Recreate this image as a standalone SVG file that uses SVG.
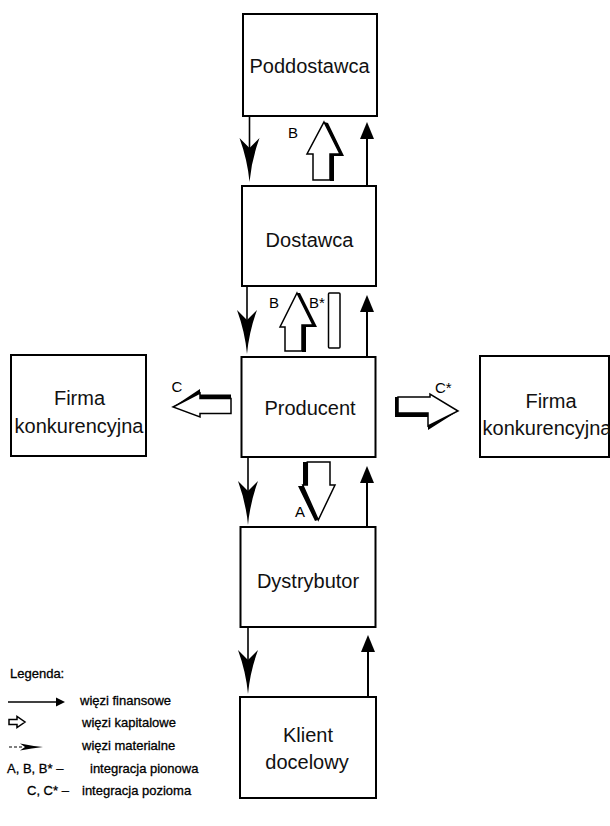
<svg xmlns="http://www.w3.org/2000/svg" xmlns:xlink="http://www.w3.org/1999/xlink" width="610" height="826" viewBox="0 0 610 826">
<style>
.box{fill:#fff;stroke:#000;stroke-width:2}
.lbl{font-family:"Liberation Sans",Arial,sans-serif;font-size:20px;fill:#111;text-anchor:middle}
.tag{font-family:"Liberation Sans",Arial,sans-serif;font-size:15px;fill:#000}
.leg{font-family:"Liberation Sans",Arial,sans-serif;font-size:13px;fill:#000;stroke:#000;stroke-width:0.3}
.ln{stroke:#000;stroke-width:2;fill:none}
.ln2{stroke:#000;stroke-width:1.6;fill:none}
.cap{fill:#fff;stroke:#000;stroke-width:1.5;stroke-linejoin:miter}
.shd{fill:#000}
</style>
<defs>
<path id="mat" d="M0,0 Q-2,-22 -10,-44 L0,-34 L10,-44 Q2,-22 0,0 Z" fill="#000"/>
<path id="fin" d="M0,0 L-7,17 L7,17 Z" fill="#000"/>
</defs>

<g id="connectors">
<line class="ln2" x1="249.5" y1="116" x2="249.5" y2="150"/>
<use href="#mat" x="249.5" y="182"/>
<line class="ln2" x1="247" y1="286" x2="247" y2="322"/>
<use href="#mat" x="247" y="354"/>
<line class="ln2" x1="248" y1="457" x2="248" y2="493"/>
<use href="#mat" x="248" y="525"/>
<line class="ln2" x1="248" y1="627" x2="248" y2="661"/>
<use href="#mat" x="248" y="694"/>
<line class="ln" x1="367" y1="186" x2="367" y2="136"/>
<use href="#fin" x="367" y="122"/>
<line class="ln" x1="367" y1="357" x2="367" y2="309"/>
<use href="#fin" x="367" y="295"/>
<line class="ln" x1="367" y1="527" x2="367" y2="480"/>
<use href="#fin" x="367" y="466"/>
<line class="ln" x1="368" y1="697" x2="368" y2="649"/>
<use href="#fin" x="368" y="635"/>

<g id="capB1">
<polygon class="shd" points="328,123 344,156 334,156 334,181 330,181 330,154 340,154 324,122"/>
<polygon class="cap" points="324,122 340,154 330,154 330,180 313,180 313,154 307,154"/>
</g>
<g id="capB2">
<polygon class="shd" points="300,293 317,327 306,327 306,352 302,352 302,325 313,325 297,293"/>
<polygon class="cap" points="297,293 313,325 302,325 302,351 285,351 285,327 280,327"/>
</g>
<rect class="cap" x="328.5" y="293" width="11.5" height="55" rx="1"/>
<g id="capA">
<polygon class="shd" points="303,462 303,486 298,486 315,521 318,520 302.7,485 307.3,485 307.3,462"/>
<polygon class="cap" points="307.3,462 330,462 330,485 335,485 318.3,520 302.7,485 307.3,485"/>
</g>
<g id="capC">
<polygon class="shd" points="173,407 200,389 200,394.5 231,394.5 231,398.5 200,398.5 200,393 176,407"/>
<polygon class="cap" points="173,407 200,393 200,398.5 231,398.5 231,413.5 200,413.5 200,417"/>
</g>
<g id="capCs">
<polygon class="shd" points="458,411 428,430 428,417 395,417 395,397 398,397 398,413 428,413 428,426"/>
<polygon class="cap" points="398,397 430,397 430,394 458,411 428,426 428,413 398,413"/>
</g>

<text class="tag" x="293" y="138" text-anchor="middle">B</text>
<text class="tag" x="274" y="308" text-anchor="middle">B</text>
<text class="tag" x="309" y="308">B*</text>
<text class="tag" x="177" y="392" text-anchor="middle">C</text>
<text class="tag" x="435" y="393">C*</text>
<text class="tag" x="300" y="517" text-anchor="middle">A</text>
</g>

<g id="poddostawca">
<rect class="box" x="243" y="14" width="134" height="102"/>
<text class="lbl" x="309.5" y="72.5">Poddostawca</text>
</g>
<g id="dostawca">
<rect class="box" x="242" y="186" width="134" height="100"/>
<text class="lbl" x="309.5" y="247">Dostawca</text>
</g>
<g id="producent">
<rect class="box" x="241.5" y="357" width="134" height="100"/>
<text class="lbl" x="310" y="415">Producent</text>
</g>
<g id="dystrybutor">
<rect class="box" x="240.5" y="527" width="135" height="100"/>
<text class="lbl" x="308" y="588">Dystrybutor</text>
</g>
<g id="klient">
<rect class="box" x="240" y="697" width="136" height="101"/>
<text class="lbl" x="308" y="742">Klient</text>
<text class="lbl" x="307" y="769">docelowy</text>
</g>
<g id="firma-left">
<rect class="box" x="11" y="355" width="135" height="101"/>
<text class="lbl" x="79.5" y="405">Firma</text>
<text class="lbl" x="79" y="433">konkurencyjna</text>
</g>
<g id="firma-right">
<rect class="box" x="480" y="356" width="129" height="101"/>
<text class="lbl" x="551" y="408">Firma</text>
<text class="lbl" x="547" y="435">konkurencyjna</text>
</g>

<g id="legend">
<text class="leg" x="10" y="678">Legenda:</text>
<line class="ln2" x1="8" y1="702" x2="58" y2="702"/>
<path d="M65,702 L56,697.5 L56,706.5 Z" fill="#000"/>
<text class="leg" x="80" y="705">więzi finansowe</text>
<polygon points="9,719.5 17,719.5 17,716.5 25,722 17,727.5 17,724.5 9,724.5" fill="#fff" stroke="#000" stroke-width="1.5"/>
<text class="leg" x="82" y="727">więzi kapitalowe</text>
<line x1="9" y1="747" x2="24" y2="747" stroke="#000" stroke-width="1.2" stroke-dasharray="3,2"/>
<path d="M43,747 Q32,746 20,743.5 L25,747 L20,750.5 Q32,748 43,747 Z" fill="#000"/>
<text class="leg" x="82" y="750">więzi materialne</text>
<text class="leg" y="773"><tspan x="7">A, B, B* –</tspan><tspan x="90">integracja pionowa</tspan></text>
<text class="leg" y="795"><tspan x="27">C, C* –</tspan><tspan x="82">integracja pozioma</tspan></text>
</g>
</svg>
